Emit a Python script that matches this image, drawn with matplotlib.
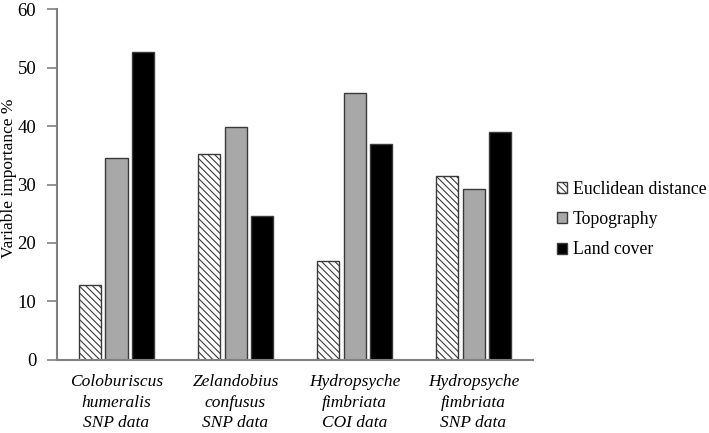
import matplotlib
matplotlib.use("Agg")
import matplotlib.pyplot as plt
import numpy as np

# data
groups = ["Coloburiscus\nhumeralis\nSNP data",
          "Zelandobius\nconfusus\nSNP data",
          "Hydropsyche\nfimbriata\nCOI data",
          "Hydropsyche\nfimbriata\nSNP data"]
series = ["Euclidean distance", "Topography", "Land cover"]
euclid = [12.8, 35.2, 17.0, 31.4]
topo = [34.5, 39.9, 45.6, 29.3]
land = [52.6, 24.7, 37.0, 38.9]
yticks = [0, 10, 20, 30, 40, 50, 60]

plt.rcParams['font.family'] = ['Liberation Serif', 'DejaVu Serif']
plt.rcParams['hatch.linewidth'] = 0.8
plt.rcParams['hatch.color'] = '#333333'

fig = plt.figure(figsize=(7.09, 4.33), dpi=100)
ax = fig.add_axes([0.0804, 0.1686, 0.6714, 0.8106])

x = np.arange(len(groups))
w = 0.185
step = 0.223
edge = '#3a3a3a'

ax.bar(x - step, euclid, w, color='white', edgecolor=edge, linewidth=1.0,
       hatch='\\\\\\\\\\', label=series[0])
ax.bar(x, topo, w, color='#a8a8a8', edgecolor=edge, linewidth=1.0, label=series[1])
ax.bar(x + step, land, w, color='black', edgecolor=edge, linewidth=1.0, label=series[2])

ax.set_xlim(-0.5, 3.5)
ax.set_ylim(0, 60)
ax.set_yticks(yticks)
ax.set_xticks(x)
ax.set_xticklabels(groups, style='italic', fontsize=12.5, linespacing=1.4)
ax.tick_params(axis='x', length=0, pad=10)
ax.tick_params(axis='y', length=7, width=1.2, color='#808080', labelsize=13.5, pad=8)
for s in ['top', 'right']:
    ax.spines[s].set_visible(False)
for s in ['left', 'bottom']:
    ax.spines[s].set_color('#808080')
    ax.spines[s].set_linewidth(1.5)

ax.set_ylabel("Variable importance %", fontsize=12.5)
ax.yaxis.set_label_coords(-0.084, 0.517)

leg = ax.legend(loc='center left', bbox_to_anchor=(1.05, 0.40), frameon=False,
                fontsize=12.8, handlelength=0.55, handleheight=0.55,
                handletextpad=0.35, labelspacing=0.75, borderpad=0,
                borderaxespad=0)

fig.savefig("out.png", dpi=100)
